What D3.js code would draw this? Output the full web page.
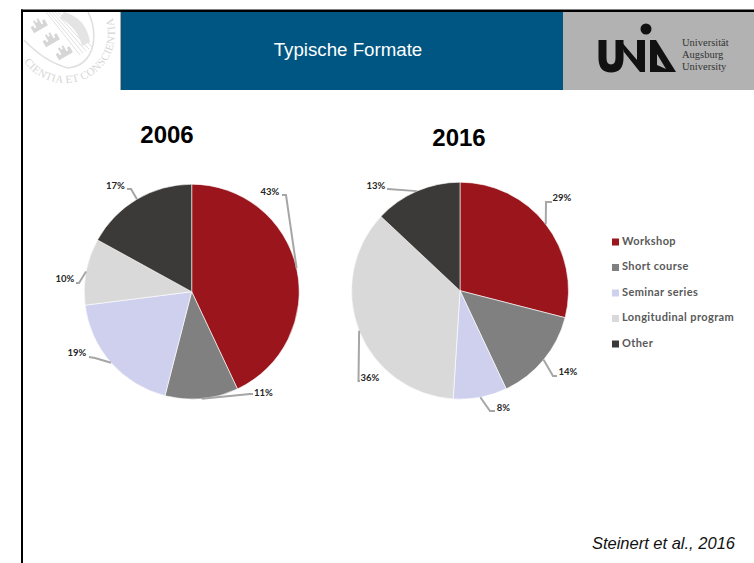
<!DOCTYPE html>
<html lang="en">
  <head>
    <meta charset="UTF-8" />
    <title>Typische Formate</title>
    <script src="https://cdnjs.cloudflare.com/ajax/libs/d3/7.8.5/d3.min.js"></script>
    <style>
      html, body { margin: 0; padding: 0; background: #fff; overflow: hidden; }
      svg { display: block; }
      .pct { font: bold 9.5px Lato, sans-serif; fill: #262626; text-anchor: middle; dominant-baseline: middle; }
      .lead { fill: none; stroke: #a6a6a6; stroke-width: 2; }
      .legend-text { font: bold 11px Lato, sans-serif; fill: #595959; dominant-baseline: middle; letter-spacing: 0.4px; }
    </style>
  </head>
  <body>
    <svg width="754" height="563"></svg>
    <script>
      const categories = ["Workshop", "Short course", "Seminar series", "Longitudinal program", "Other"];
      const colorValues = ["#9a161c", "#808080", "#cfd0ee", "#d9d9d9", "#3b3a38"];
      const values2006 = [43, 11, 19, 10, 17];
      const values2016 = [29, 14, 8, 36, 13];

      // where the labels and leader elbows sit, per slice
      const layout2006 = [
        { elbow: [286, 195], end: [282, 195], text: [270, 193] },
        { elbow: [250, 394], end: [253, 394], text: [263.5, 394] },
        { elbow: [95, 358], end: [89, 357], text: [77, 354] },
        { elbow: [79, 283], end: [76, 283], text: [65, 280] },
        { elbow: [131, 189], end: [127, 189], text: [115.5, 187] }
      ];
      const layout2016 = [
        { elbow: [546, 202], end: [552, 202], text: [562, 199] },
        { elbow: [553, 376], end: [557, 376], text: [568, 373] },
        { elbow: [490, 411], end: [495, 411], text: [503.5, 409] },
        { elbow: [358.5, 381], end: [360, 381], text: [370, 379] },
        { elbow: [388, 189], end: [387, 189], text: [376, 187] }
      ];

      const svg = d3.select("svg");
      const color = d3.scaleOrdinal().domain(categories).range(colorValues);

      // slide frame and header
      svg.append("rect").attr("x", 121).attr("y", 12).attr("width", 442).attr("height", 78).attr("fill", "#005682");
      svg.append("rect").attr("x", 563).attr("y", 12).attr("width", 191).attr("height", 78).attr("fill", "#b2b2b2");
      svg.append("line").attr("x1", 120.5).attr("x2", 120.5).attr("y1", 12).attr("y2", 90).attr("stroke", "#aaa");
      svg.append("rect").attr("x", 21).attr("y", 9.5).attr("width", 733).attr("height", 2.5).attr("fill", "#000");
      svg.append("rect").attr("x", 21).attr("y", 9.5).attr("width", 2).attr("height", 553.5).attr("fill", "#000");

      svg.append("text").attr("x", 348).attr("y", 51).attr("text-anchor", "middle").attr("dominant-baseline", "middle")
        .attr("fill", "#fff").style("font", "18.7px 'Liberation Sans', Arial, sans-serif").text("Typische Formate");

      // faint university seal, clipped by the header box
      svg.append("clipPath").attr("id", "sealClip").append("rect").attr("x", 23).attr("y", 12).attr("width", 97).attr("height", 78);
      const seal = svg.append("g").attr("clip-path", "url(#sealClip)");
      const sealInk = "#e0e0e0";
      svg.append("defs").append("path").attr("id", "sealPath").attr("d", "M 24 61.7 A 50 50 0 0 0 112 16");
      seal.append("text").attr("fill", "#d6d6d6").style("font", "11px 'Liberation Serif', serif")
        .append("textPath").attr("href", "#sealPath").attr("textLength", 142).text("CIENTIA ET CONSCIENTIA");
      seal.append("path").attr("d", "M 24 40 Q 45 62 68 68 Q 88 66 93 45 Q 96 28 88 12")
        .attr("fill", "none").attr("stroke", sealInk).attr("stroke-width", 1.6);
      [[38, 24], [50, 38], [63, 51]].forEach(([x, y]) => {
        seal.append("path").attr("d", `M ${x - 8} ${y + 6} v -7 h 3 v 3 h 2 v -7 h 2 v 3 h 2 v -3 h 2 v 7 h 2 v -3 h 3 v 7 z`)
          .attr("fill", "#d6d6d6").attr("transform", `rotate(-30 ${x} ${y})`);
      });
      d3.range(5).forEach(i => {
        seal.append("line").attr("x1", 46 + i * 3).attr("y1", 12).attr("x2", 80 + i * 3).attr("y2", 55 - i * 2)
          .attr("stroke", sealInk).attr("stroke-width", 1);
      });
      seal.append("path").attr("d", "M 64 12 Q 86 18 90 42 L 82 46 Q 78 28 60 18 Z").attr("fill", "#e4e4e4");

      // logo
      const logo = svg.append("g");
      logo.append("path").attr("fill", "none").attr("stroke", "#111").attr("stroke-width", 8)
        .attr("d", "M 602.5 40 V 58 Q 602.5 68.5 611 68.5 Q 619.5 68.5 619.5 58 V 40");
      logo.append("path").attr("fill", "#111").attr("d", "M 620 40 L 637 60 V 40 H 645 V 72 H 640 L 624 52 Z");
      logo.append("path").attr("fill", "#111").attr("fill-rule", "evenodd")
        .attr("d", "M 650 40 H 656 L 676 72 H 650 Z M 657 54 V 65 L 666 69 Z");
      logo.append("circle").attr("cx", 646).attr("cy", 29).attr("r", 5.5).attr("fill", "#111");
      ["Universität", "Augsburg", "University"].forEach((t, i) => {
        logo.append("text").attr("x", 682).attr("y", 46 + i * 12).attr("fill", "#333")
          .style("font", "10.5px 'Liberation Serif', serif").text(t);
      });

      const pie = d3.pie().sort(null).value(d => d);

      function drawPie(title, titleX, titleY, values, cx, cy, r, layout) {
        const arc = d3.arc().innerRadius(0).outerRadius(r);
        const edge = d3.arc().innerRadius(r).outerRadius(r);
        const arcs = pie(values);

        svg.append("text").attr("x", titleX).attr("y", titleY).attr("text-anchor", "middle")
          .style("font", "bold 24px 'Liberation Sans', Arial, sans-serif").attr("fill", "#000").text(title);

        const g = svg.append("g").attr("transform", `translate(${cx},${cy})`);
        g.selectAll("path.slice").data(arcs).join("path").attr("class", "slice")
          .attr("d", arc).attr("fill", (d, i) => color(categories[i]))
          .attr("stroke", "#fff").attr("stroke-width", 0.6);

        svg.selectAll(null).data(arcs).join("polyline").attr("class", "lead")
          .attr("points", (d, i) => {
            const p = edge.centroid(d);
            return [[cx + p[0], cy + p[1]], layout[i].elbow, layout[i].end].join(" ");
          });

        svg.selectAll(null).data(arcs).join("text").attr("class", "pct")
          .attr("x", (d, i) => layout[i].text[0]).attr("y", (d, i) => layout[i].text[1])
          .text(d => d.value + "%");
      }

      drawPie("2006", 167, 142.5, values2006, 191.7, 291.7, 107.5, layout2006);
      drawPie("2016", 459, 146, values2016, 460, 290.7, 108.5, layout2016);

      // legend
      const legendY = d3.scalePoint().domain(categories).range([242, 344]);
      const legend = svg.selectAll(null).data(categories).join("g")
        .attr("transform", d => `translate(612,${legendY(d)})`);
      legend.append("rect").attr("y", -3.5).attr("width", 7).attr("height", 7).attr("fill", d => color(d));
      legend.append("text").attr("class", "legend-text").attr("x", 10).attr("y", 0).text(d => d);

      svg.append("text").attr("x", 735).attr("y", 549).attr("text-anchor", "end").attr("fill", "#111")
        .style("font", "italic 16.5px 'Liberation Sans', Arial, sans-serif").text("Steinert et al., 2016");
    </script>
  </body>
</html>
